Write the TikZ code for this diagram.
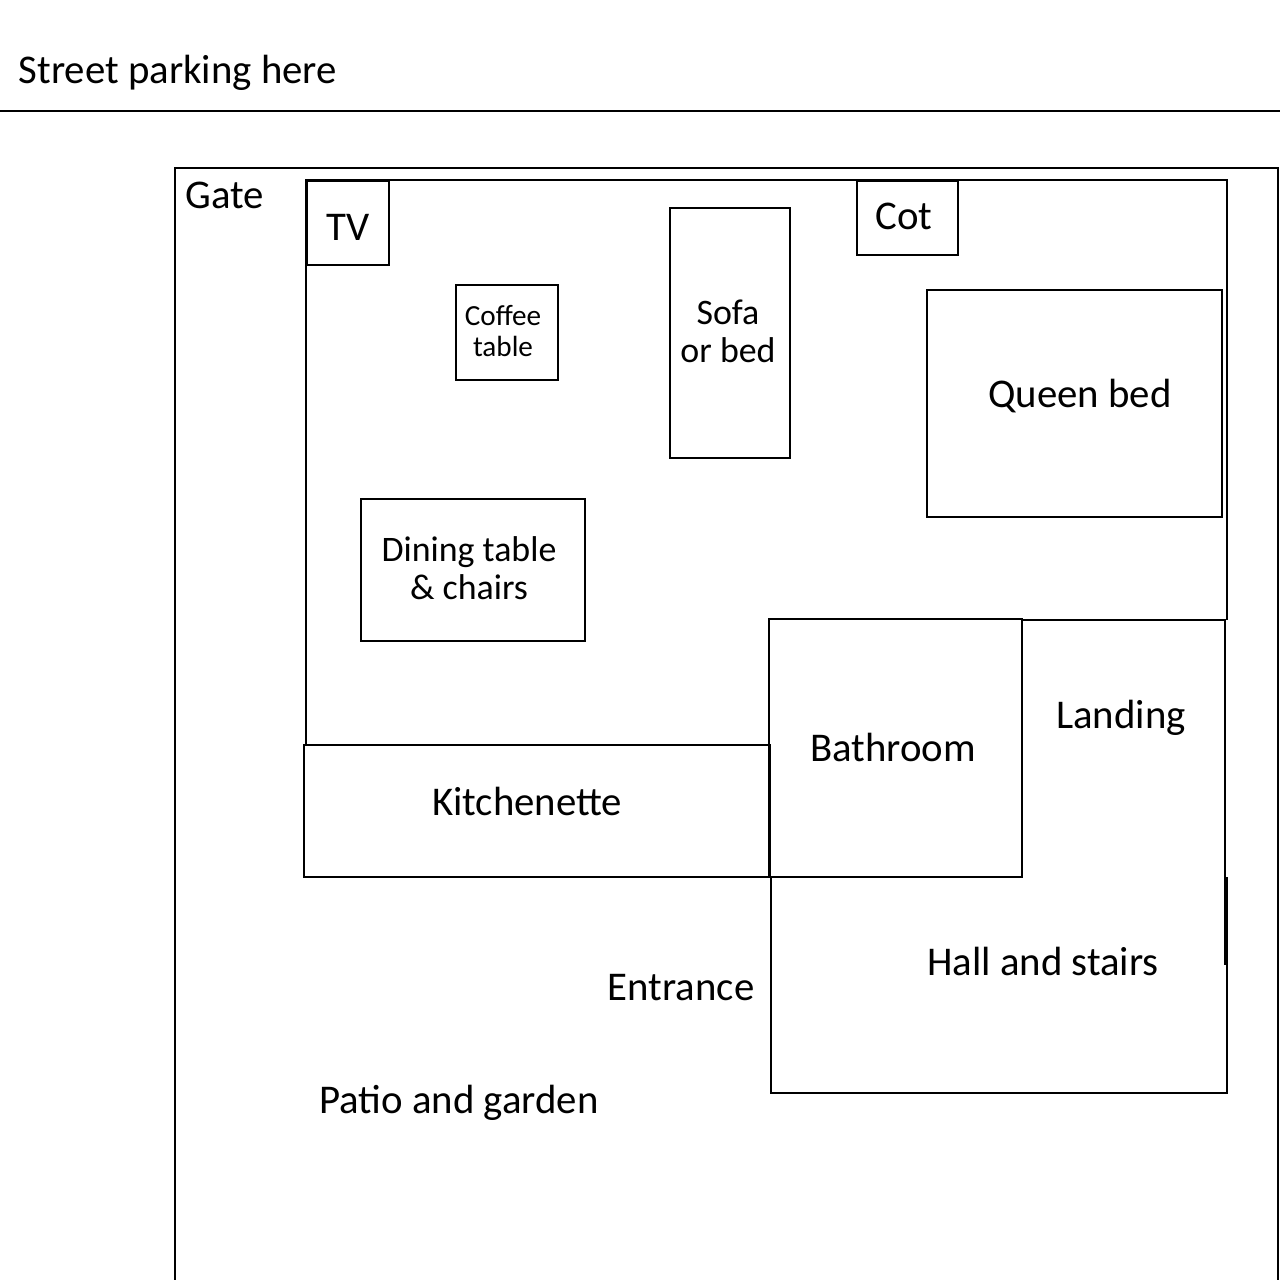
\documentclass[tikz,border=0pt]{standalone}
\usepackage{fontspec}
\setmainfont{Carlito}
\usetikzlibrary{positioning}
\tikzset{room/.style={draw=black, thin}, label/.style={inner sep=0pt, font=\fontsize{11.6}{14}\selectfont}, small/.style={inner sep=0pt, align=center, font=\fontsize{8.3}{9}\selectfont}}
\begin{document}
\begin{tikzpicture}[x=0.01cm, y=-0.01cm]
\useasboundingbox (0,0) rectangle (1280,1280);
% street and plot
\draw [room] (0,111) -- (1280,111);
\node [label, anchor=west] (street) at (18,73) {Street parking here};
\draw [room] (175,1280) -- (175,168) -- (1278,168) -- (1278,1280);
\node [label] (gate) at (225,195) {Gate};
% house outline
\draw [room] (306,745) -- (306,180) -- (1227,180) -- (1227,620);
% furniture
\draw [room] (307,181) rectangle (389,265);
\node [label] (tv) at (348,227) {TV};
\draw [room] (857,181) rectangle (958,255);
\node [label] (cot) at (904,216) {Cot};
\draw [room] (456,285) rectangle (558,380);
\node [small] (coffee) at (503,331) {Coffee\\table};
\draw [room] (670,208) rectangle (790,458);
\node [small, font=\fontsize{10.2}{10.8}\selectfont] (sofa) at (728,331) {Sofa\\or bed};
\draw [room] (927,290) rectangle (1222,517);
\node [label] (queen) at (1080,396) {Queen bed};
\draw [room] (361,499) rectangle (585,641);
\node [small, font=\fontsize{10.2}{10.8}\selectfont] (dining) at (469,568) {Dining table\\\& chairs};
% rooms
\draw [room] (304,745) rectangle (770,877);
\draw [semithick] (304,745) -- (304,877) -- (770,877);
\node [label] (kitchen) at (527,801) {Kitchenette};
\draw [room] (769,619) rectangle (1022,877);
\node [label] (bath) at (893,747) {Bathroom};
\draw [semithick] (1022,620) -- (1225,620) -- (1225,965);
\node [label] (landing) at (1121,718) {Landing};
\draw [room] (771,877) -- (771,1093) -- (1227,1093) -- (1227,877);
\node [label] (hall) at (1043,961) {Hall and stairs};
\node [label] (entrance) at (681,988) {Entrance};
\node [label] (patio) at (459,1103) {Patio and garden};
\end{tikzpicture}
\end{document}
